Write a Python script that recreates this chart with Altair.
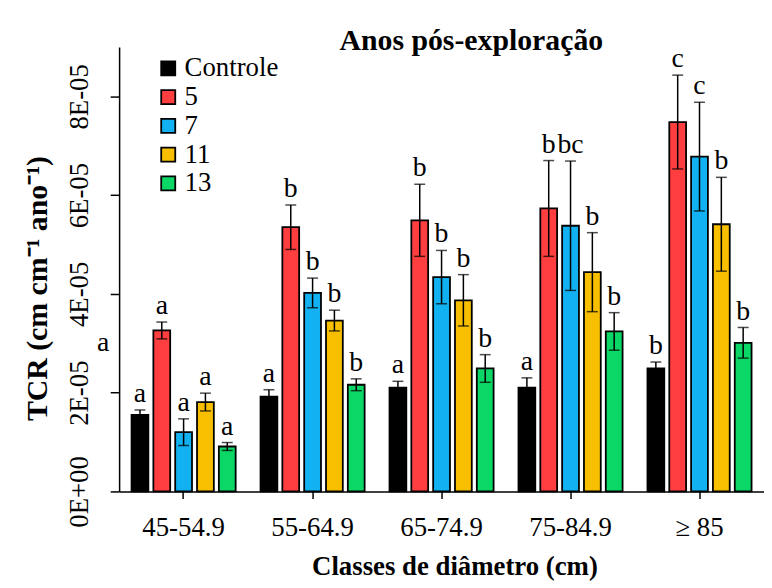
import altair as alt
import pandas as pd

FONT = "Liberation Serif"

classes = ["45-54.9", "55-64.9", "65-74.9", "75-84.9", "≥ 85"]
series = ["Controle", "5", "7", "11", "13"]
colors = ["#000000", "#FF3F3F", "#12B2F2", "#F7BF00", "#0AD765"]

tcr_controle = [1.55e-5, 1.92e-5, 2.10e-5, 2.10e-5, 2.49e-5]
tcr_5 = [3.26e-5, 5.35e-5, 5.49e-5, 5.73e-5, 7.48e-5]
tcr_7 = [1.20e-5, 4.02e-5, 4.34e-5, 5.38e-5, 6.78e-5]
tcr_11 = [1.81e-5, 3.46e-5, 3.87e-5, 4.44e-5, 5.41e-5]
tcr_13 = [0.91e-5, 2.16e-5, 2.49e-5, 3.24e-5, 3.01e-5]

err_controle = [0.10e-5, 0.14e-5, 0.13e-5, 0.20e-5, 0.13e-5]
err_5 = [0.17e-5, 0.45e-5, 0.73e-5, 0.97e-5, 0.95e-5]
err_7 = [0.27e-5, 0.30e-5, 0.54e-5, 1.31e-5, 1.10e-5]
err_11 = [0.18e-5, 0.21e-5, 0.52e-5, 0.80e-5, 0.95e-5]
err_13 = [0.08e-5, 0.12e-5, 0.28e-5, 0.38e-5, 0.31e-5]

let_controle = ["a", "a", "a", "a", "b"]
let_5 = ["a", "b", "b", "b", "c"]
let_7 = ["a", "b", "b", "bc", "c"]
let_11 = ["a", "b", "b", "b", "b"]
let_13 = ["a", "b", "b", "b", "b"]

y_ticks = [0, 2e-5, 4e-5, 6e-5, 8e-5]

stray_label = ["a"]
stray_value = [3.0e-5]

tcr = [tcr_controle, tcr_5, tcr_7, tcr_11, tcr_13]
err = [err_controle, err_5, err_7, err_11, err_13]
lets = [let_controle, let_5, let_7, let_11, let_13]

rows = []
for si, s in enumerate(series):
    for ci, c in enumerate(classes):
        m = tcr[si][ci]
        e = err[si][ci]
        rows.append(dict(classe=c, anos=s, tcr=m, lo=m - e, hi=m + e, letra=lets[si][ci]))
df = pd.DataFrame(rows)

x_enc = alt.X(
    "classe:N",
    sort=classes,
    scale=alt.Scale(paddingInner=0.154, paddingOuter=0.077),
    axis=alt.Axis(
        title="Classes de diâmetro  (cm)",
        labelAngle=0,
        labelFont=FONT,
        labelFontSize=27,
        labelColor="black",
        labelPadding=16,
        tickSize=7,
        tickWidth=1.5,
        tickColor="black",
        domainColor="black",
        domainWidth=1.5,
        titleFont=FONT,
        titleFontSize=27,
        titleFontWeight="bold",
        titleColor="black",
        titlePadding=14,
        titleX=338,
        grid=False,
    ),
)
xoff_enc = alt.XOffset(
    "anos:N", sort=series, scale=alt.Scale(paddingInner=0.23, paddingOuter=0.115)
)
y_scale = alt.Scale(domain=[0, 9e-5], nice=False, zero=True)
y_enc = alt.Y(
    "tcr:Q",
    scale=y_scale,
    axis=alt.Axis(
        title="TCR  (cm cm⁻¹ ano⁻¹)",
        values=y_ticks,
        labelExpr="datum.value == 0 ? '0E+00' : format(datum.value * 100000, '.0f') + 'E-05'",
        labelAngle=270,
        labelAlign="center",
        labelBaseline="alphabetic",
        labelFont=FONT,
        labelFontSize=27,
        labelColor="black",
        labelPadding=23,
        tickSize=9,
        tickWidth=1.5,
        tickColor="black",
        domainColor="black",
        domainWidth=1.5,
        titleFont=FONT,
        titleFontSize=30,
        titleFontWeight="bold",
        titleColor="black",
        titlePadding=13,
        titleY=243,
        grid=False,
    ),
)

bars = alt.Chart(df).mark_bar(stroke="black", strokeWidth=1.8).encode(
    x=x_enc,
    xOffset=xoff_enc,
    y=y_enc,
    color=alt.Color(
        "anos:N",
        sort=series,
        scale=alt.Scale(domain=series, range=colors),
        legend=alt.Legend(
            title=None,
            orient="none",
            legendX=36,
            legendY=8,
            symbolType="square",
            symbolSize=200,
            symbolStrokeColor="black",
            symbolStrokeWidth=1.8,
            symbolOpacity=1,
            labelFont=FONT,
            labelFontSize=27,
            labelColor="black",
            labelOffset=3,
            rowPadding=1,
        ),
    ),
)

rules = alt.Chart(df).mark_rule(color="black", strokeWidth=1.5).encode(
    x=alt.X("classe:N", sort=classes),
    xOffset=alt.XOffset("anos:N", sort=series),
    y=alt.Y("lo:Q"),
    y2="hi:Q",
)
cap_hi = alt.Chart(df).mark_tick(color="black", thickness=1.5, size=11).encode(
    x=alt.X("classe:N", sort=classes),
    xOffset=alt.XOffset("anos:N", sort=series),
    y=alt.Y("hi:Q"),
)
cap_lo = alt.Chart(df).mark_tick(color="black", thickness=1.5, size=11).encode(
    x=alt.X("classe:N", sort=classes),
    xOffset=alt.XOffset("anos:N", sort=series),
    y=alt.Y("lo:Q"),
)
letters = alt.Chart(df).mark_text(
    font=FONT, fontSize=28, baseline="alphabetic", align="center", dy=-8, color="black"
).encode(
    x=alt.X("classe:N", sort=classes),
    xOffset=alt.XOffset("anos:N", sort=series),
    y=alt.Y("hi:Q"),
    text="letra:N",
)

stray = alt.Chart(pd.DataFrame({"t": stray_label, "v": stray_value})).mark_text(
    font=FONT, fontSize=28, baseline="middle", align="center", color="black"
).encode(x=alt.value(-16), y=alt.Y("v:Q"), text="t:N")

chart = (
    alt.layer(bars, rules, cap_hi, cap_lo, letters, stray)
    .properties(
        width=650,
        height=448,
        autosize=alt.AutoSizeParams(type="none"),
        padding={"left": 112, "top": 37, "right": 0, "bottom": 88},
        title=alt.Title(
            "Anos pós-exploração",
            font=FONT,
            fontSize=30,
            fontWeight="bold",
            color="black",
            anchor="middle",
            frame="group",
            baseline="alphabetic",
            offset=0,
            dx=30,
            dy=35,
        ),
        background="white",
    )
    .configure(font=FONT)
    .configure_axis(labelFont=FONT, titleFont=FONT)
    .configure_legend(labelFont=FONT)
    .configure_view(stroke=None)
)

chart.save("out.html", embed_options={"renderer": "svg", "actions": False})
